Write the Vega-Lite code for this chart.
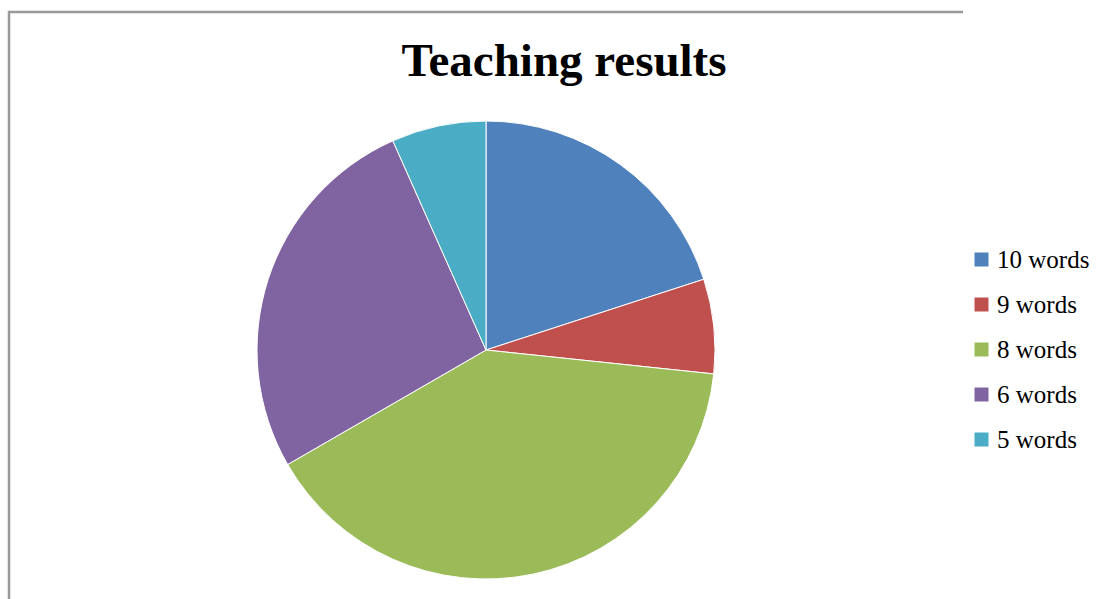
{
  "$schema": "https://vega.github.io/schema/vega-lite/v6.json",
  "width": 954,
  "height": 676,
  "autosize": {"type": "none"},
  "padding": {"left": 9, "top": 12, "right": 146, "bottom": -89},
  "background": "white",
  "view": {"stroke": "#999999", "strokeWidth": 2.5, "strokeDash": [954, 676, 3000]},
  "config": {
    "font": "Liberation Serif",
    "legend": {"labelFont": "'Liberation Serif', 'Times New Roman', serif"}
  },
  "title": {
    "text": "Teaching results",
    "font": "Liberation Serif",
    "fontSize": 47,
    "fontWeight": "bold",
    "color": "black",
    "anchor": "middle",
    "frame": "group",
    "dx": 78,
    "offset": -74
  },
  "data": {
    "values": [
      {"label": "10 words", "words": 10, "count": 3},
      {"label": "9 words", "words": 9, "count": 1},
      {"label": "8 words", "words": 8, "count": 6},
      {"label": "6 words", "words": 6, "count": 4},
      {"label": "5 words", "words": 5, "count": 1}
    ]
  },
  "mark": {"type": "arc", "outerRadius": 229, "stroke": "white", "strokeWidth": 1},
  "encoding": {
    "theta": {"field": "count", "type": "quantitative", "stack": true},
    "order": {"field": "words", "sort": "descending"},
    "color": {
      "field": "label",
      "type": "nominal",
      "scale": {
        "domain": ["10 words", "9 words", "8 words", "6 words", "5 words"],
        "range": ["#4F81BD", "#C0504D", "#9BBB59", "#8064A2", "#4BACC6"]
      },
      "legend": {
        "title": null,
        "orient": "none",
        "legendX": 960,
        "legendY": 235,
        "symbolType": "square",
        "symbolSize": 196,
        "symbolStrokeWidth": 0,
        "labelFont": "'Liberation Serif', 'Times New Roman', serif",
        "labelFontSize": 25,
        "labelColor": "black",
        "labelOffset": 3,
        "rowPadding": 19,
        "padding": 0
      }
    }
  }
}
